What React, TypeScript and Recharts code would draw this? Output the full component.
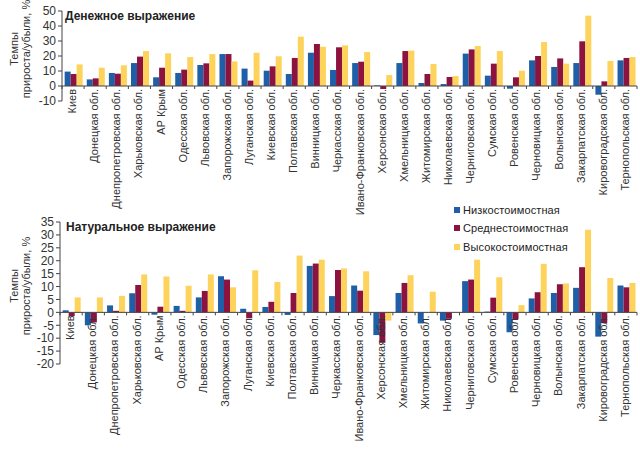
import React from 'react';
import { BarChart, Bar, XAxis, YAxis, ReferenceLine, Legend } from 'recharts';

const categories = [
  'Киев', 'Донецкая обл.', 'Днепропетровская обл.', 'Харьковская обл.', 'АР Крым',
  'Одесская обл.', 'Львовская обл.', 'Запорожская обл.', 'Луганская обл.', 'Киевская обл.',
  'Полтавская обл.', 'Винницкая обл.', 'Черкасская обл.', 'Ивано-Франковская обл.', 'Херсонская обл.',
  'Хмельницкая обл.', 'Житомирская обл.', 'Николаевская обл.', 'Черниговская обл.', 'Сумская обл.',
  'Ровенская обл.', 'Черновицкая обл.', 'Волынская обл.', 'Закарпатская обл.', 'Кировоградская обл.',
  'Тернопольская обл.',
];

const seriesNames = ['Низкостоимостная', 'Среднестоимостная', 'Высокостоимостная'];

// Денежное выражение
const moneyLow = [9.6, 4.4, 8.7, 15.3, 5.8, 8.7, 14.0, 21.3, 11.6, 10.2, 8.0, 22.2, 10.7, 15.3, 0.4, 15.3, 2.0, 1.3, 21.6, 6.9, -1.8, 17.1, 12.7, 15.3, -5.8, 17.1];
const moneyMid = [8.0, 5.1, 8.2, 19.6, 12.2, 10.9, 15.1, 21.3, 3.6, 13.1, 18.7, 28.0, 25.8, 16.2, -2.0, 23.3, 8.0, 6.0, 24.4, 14.9, 5.8, 20.0, 18.4, 29.8, 3.1, 18.7];
const moneyHigh = [14.4, 12.2, 13.8, 23.3, 21.8, 19.3, 21.3, 16.4, 22.2, 19.8, 32.9, 26.2, 27.1, 22.7, 7.3, 23.6, 14.7, 6.7, 26.7, 23.3, 10.2, 29.3, 14.9, 46.9, 16.7, 19.3];

// Натуральное выражение
const natLow = [0.8, -5.0, 2.7, 7.4, -0.9, 2.5, 5.8, 14.0, 1.4, 2.1, -1.0, 18.0, 6.3, 10.4, -8.8, 7.5, -4.3, -3.2, 12.1, 0.3, -7.7, 5.4, 7.5, 9.5, -9.4, 10.4];
const natMid = [-1.5, -3.9, 0.6, 10.6, 2.2, 0.6, 8.3, 12.7, -2.3, 4.1, 7.5, 18.9, 16.4, 8.4, -11.8, 11.4, 0, -2.5, 12.7, 5.7, -2.6, 7.8, 10.9, 17.5, -4.1, 9.7];
const natHigh = [5.8, 5.8, 6.4, 14.7, 13.9, 10.3, 14.7, 9.7, 16.3, 11.8, 22.0, 20.4, 17.0, 15.9, -3.2, 14.4, 8.0, 0, 20.4, 13.6, 2.8, 18.8, 11.2, 32.0, 13.3, 11.4];

const moneyTicks = [-10, 0, 10, 20, 30, 40, 50];
const natTicks = [-20, -15, -10, -5, 0, 5, 10, 15, 20, 25, 30, 35];

const FONT = "'Liberation Sans', Arial, sans-serif";
const COLORS = ['#1f5fa8', '#8c1240', '#fdd35c'];
const AXIS = '#444';

const moneyData = categories.map((c, i) => ({ name: c, low: moneyLow[i], mid: moneyMid[i], high: moneyHigh[i] }));
const natData = categories.map((c, i) => ({ name: c, low: natLow[i], mid: natMid[i], high: natHigh[i] }));

const makeTick = (zeroOffset: number, band: number, count: number) => (props: any) => {
  const { x, y, payload, index } = props;
  const zy = y + zeroOffset;
  return (
    <g>
      <line x1={x - band / 2} x2={x - band / 2} y1={zy} y2={zy + 3} stroke={AXIS} />
      {index === count - 1 ? <line x1={x + band / 2} x2={x + band / 2} y1={zy} y2={zy + 3} stroke={AXIS} /> : null}
      <text
        transform={`translate(${x + 3},${zy + 3}) rotate(-90)`}
        textAnchor="end"
        fontSize={11}
        fontFamily={FONT}
        fill="#333"
      >
        {payload.value}
      </text>
    </g>
  );
};

const yLabel = (centerY: number) => () => (
  <g fontFamily={FONT} fontSize={11} fill="#333">
    <text transform={`translate(18,${centerY}) rotate(-90)`} textAnchor="middle">Темпы</text>
    <text transform={`translate(30,${centerY}) rotate(-90)`} textAnchor="middle">прироста/убыли, %</text>
  </g>
);

const LegendContent = () => (
  <div style={{ fontFamily: FONT, fontSize: 11, color: '#222' }}>
    {seriesNames.map((n, i) => (
      <div key={n} style={{ display: 'flex', alignItems: 'center', height: 18.5, whiteSpace: 'nowrap' }}>
        <span style={{ display: 'inline-block', width: 6, height: 6, background: COLORS[i], marginRight: 3 }} />
        <span style={{ letterSpacing: 0.1 }}>{n}</span>
      </div>
    ))}
  </div>
);

const Panel = ({ data, width, height, top, yAxisWidth, marginTop, xHeight, domain, ticks, labelCenter, legend }: any) => {
  const plotH = height - marginTop - xHeight;
  const plotW = width - yAxisWidth - 3;
  const band = plotW / categories.length;
  const zeroOffset = -(plotH * (0 - domain[0])) / (domain[1] - domain[0]);
  return (
    <div style={{ position: 'absolute', left: 0, top }}>
      <BarChart
        width={width}
        height={height}
        data={data}
        margin={{ top: marginTop, right: 3, bottom: 0, left: 0 }}
        barCategoryGap="12%"
        barGap={0}
      >
        <XAxis
          dataKey="name"
          interval={0}
          height={xHeight}
          axisLine={false}
          tickLine={false}
          tickSize={0}
          tickMargin={0}
          tick={makeTick(zeroOffset, band, categories.length)}
        />
        <YAxis
          width={yAxisWidth}
          domain={domain}
          ticks={ticks}
          interval={0}
          allowDataOverflow
          axisLine={{ stroke: AXIS }}
          tickLine={{ stroke: AXIS }}
          tickSize={4}
          tickMargin={2}
          tick={{ fontSize: 12, fill: '#333', fontFamily: FONT }}
          label={{ content: yLabel(labelCenter) }}
        />
        <ReferenceLine y={0} stroke={AXIS} />
        <Bar dataKey="low" name={seriesNames[0]} fill={COLORS[0]} isAnimationActive={false} />
        <Bar dataKey="mid" name={seriesNames[1]} fill={COLORS[1]} isAnimationActive={false} />
        <Bar dataKey="high" name={seriesNames[2]} fill={COLORS[2]} isAnimationActive={false} />
        {legend ? (
          <Legend
            layout="vertical"
            align="center"
            verticalAlign="middle"
            content={<LegendContent />}
            wrapperStyle={{ left: 454, top: 0.5, width: 'auto', height: 'auto' }}
          />
        ) : null}
      </BarChart>
    </div>
  );
};

export default function App() {
  return (
    <div style={{ position: 'absolute', left: 0, top: 0, width: 640, height: 455, background: '#fff', fontFamily: FONT }}>
      <Panel data={moneyData} width={640} height={230} top={0} yAxisWidth={62} marginTop={11} xHeight={129}
        domain={[-10, 50]} ticks={moneyTicks} labelCenter={49} legend={false} />
      <Panel data={natData} width={640} height={255} top={200} yAxisWidth={60} marginTop={22} xHeight={91}
        domain={[-20, 35]} ticks={natTicks} labelCenter={86} legend={true} />
      <div style={{ position: 'absolute', left: 65, top: 9, fontSize: 12, fontWeight: 'bold', lineHeight: '14px', color: '#222' }}>
        Денежное выражение
      </div>
      <div style={{ position: 'absolute', left: 66, top: 220, fontSize: 12, fontWeight: 'bold', lineHeight: '14px', color: '#222' }}>
        Натуральное выражение
      </div>
    </div>
  );
}
